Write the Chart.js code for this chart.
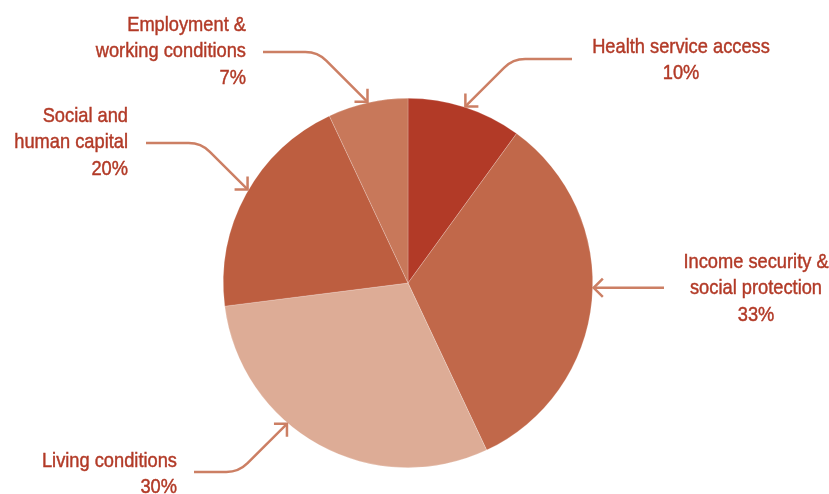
<!DOCTYPE html>
<html>
<head>
<meta charset="utf-8">
<script src="https://cdn.jsdelivr.net/npm/chart.js@4/dist/chart.umd.min.js"></script>
<style>
  html, body { margin: 0; padding: 0; background: #fff; }
  #wrap { width: 829px; height: 494px; position: relative; }
</style>
</head>
<body>
<div id="wrap"><canvas id="pie"></canvas></div>
<script>
const categories = [
    'Health service access',
    'Income security & social protection',
    'Living conditions',
    'Social and human capital',
    'Employment & working conditions'
];
const shares = [10, 33, 30, 20, 7];
const sliceColors = ['#b23a27', '#c1684a', '#ddac96', '#bd5e40', '#c8785a'];

// label lines for each slice (last line is the percentage)
const labelLines = [
    ['Health service access'],
    ['Income security &', 'social protection'],
    ['Living conditions'],
    ['Social and', 'human capital'],
    ['Employment &', 'working conditions']
];

// where each callout sits: text anchor, alignment, arrow start, and where on the slice the arrow points
const callouts = [
    {x: 681, y: 47, align: 'center', lineY: 59, lineX: 572, at: 0.5},
    {x: 756, y: 262, align: 'center', lineY: 288, lineX: 664, at: 0.467},
    {x: 177, y: 461, align: 'right', lineY: 472, lineX: 194, at: 0.61},
    {x: 128, y: 116, align: 'right', lineY: 143, lineX: 146, at: 0.52},
    {x: 246, y: 25, align: 'right', lineY: 52, lineX: 263, at: 0.5}
];

const TEXT_COLOR = '#b23a27';
const ARROW_COLOR = '#cc7f64';
const FONT = '21px "Liberation Sans", Arial, sans-serif';
const TEXT_SQUEEZE = 0.87; // narrow the face horizontally

function drawHead(ctx, tx, ty, dirAngle) {
    const len = 13;
    ctx.beginPath();
    ctx.moveTo(tx + len * Math.cos(dirAngle + Math.PI - Math.PI / 4), ty + len * Math.sin(dirAngle + Math.PI - Math.PI / 4));
    ctx.lineTo(tx, ty);
    ctx.lineTo(tx + len * Math.cos(dirAngle + Math.PI + Math.PI / 4), ty + len * Math.sin(dirAngle + Math.PI + Math.PI / 4));
    ctx.stroke();
}

const calloutPlugin = {
    id: 'callouts',
    afterDatasetsDraw(chart) {
        const ctx = chart.ctx;
        const meta = chart.getDatasetMeta(0);
        ctx.save();
        meta.data.forEach((arc, i) => {
            const c = callouts[i];
            const p = arc.getProps(['x', 'y', 'startAngle', 'endAngle', 'outerRadius'], true);
            const ang = p.startAngle + (p.endAngle - p.startAngle) * c.at;
            const tx = p.x + Math.cos(ang) * (p.outerRadius + 1);
            const ty = p.y + Math.sin(ang) * (p.outerRadius + 1);

            ctx.strokeStyle = ARROW_COLOR;
            ctx.lineWidth = 2.5;
            ctx.lineCap = 'butt';
            ctx.lineJoin = 'miter';

            let dir;
            if (Math.abs(ty - c.lineY) < 20) {
                // straight horizontal arrow
                ctx.beginPath();
                ctx.moveTo(c.lineX, ty);
                ctx.lineTo(tx, ty);
                ctx.stroke();
                dir = Math.atan2(0, tx - c.lineX);
            } else {
                // horizontal run, rounded bend, then a 45 degree leg to the slice
                const dy = ty - c.lineY;
                const sx = Math.sign(tx - c.lineX);
                const cx = tx - sx * Math.abs(dy);
                ctx.beginPath();
                ctx.moveTo(c.lineX, c.lineY);
                ctx.arcTo(cx, c.lineY, tx, ty, 30);
                ctx.lineTo(tx, ty);
                ctx.stroke();
                dir = Math.atan2(ty - c.lineY, tx - cx);
            }
            drawHead(ctx, tx, ty, dir);

            // label text, slightly thickened
            ctx.fillStyle = TEXT_COLOR;
            ctx.strokeStyle = TEXT_COLOR;
            ctx.lineWidth = 0.45;
            ctx.font = FONT;
            ctx.textAlign = c.align;
            ctx.textBaseline = 'middle';
            const lines = labelLines[i].concat([shares[i] + '%']);
            lines.forEach((t, k) => {
                ctx.save();
                ctx.translate(c.x, c.y + k * 26.5);
                ctx.scale(TEXT_SQUEEZE, 1);
                ctx.fillText(t, 0, 0);
                ctx.strokeText(t, 0, 0);
                ctx.restore();
            });
        });
        ctx.restore();
    }
};

new Chart(document.getElementById('pie'), {
    type: 'pie',
    data: {
        labels: categories,
        datasets: [{
            data: shares,
            backgroundColor: sliceColors,
            borderColor: 'rgba(255,255,255,0.35)',
            borderWidth: 0.6
        }]
    },
    options: {
        responsive: true,
        maintainAspectRatio: false,
        animation: false,
        layout: {padding: {top: 98, bottom: 26, left: 0, right: 13}},
        plugins: {
            legend: {display: false},
            tooltip: {enabled: false}
        }
    },
    plugins: [calloutPlugin]
});
</script>
</body>
</html>
